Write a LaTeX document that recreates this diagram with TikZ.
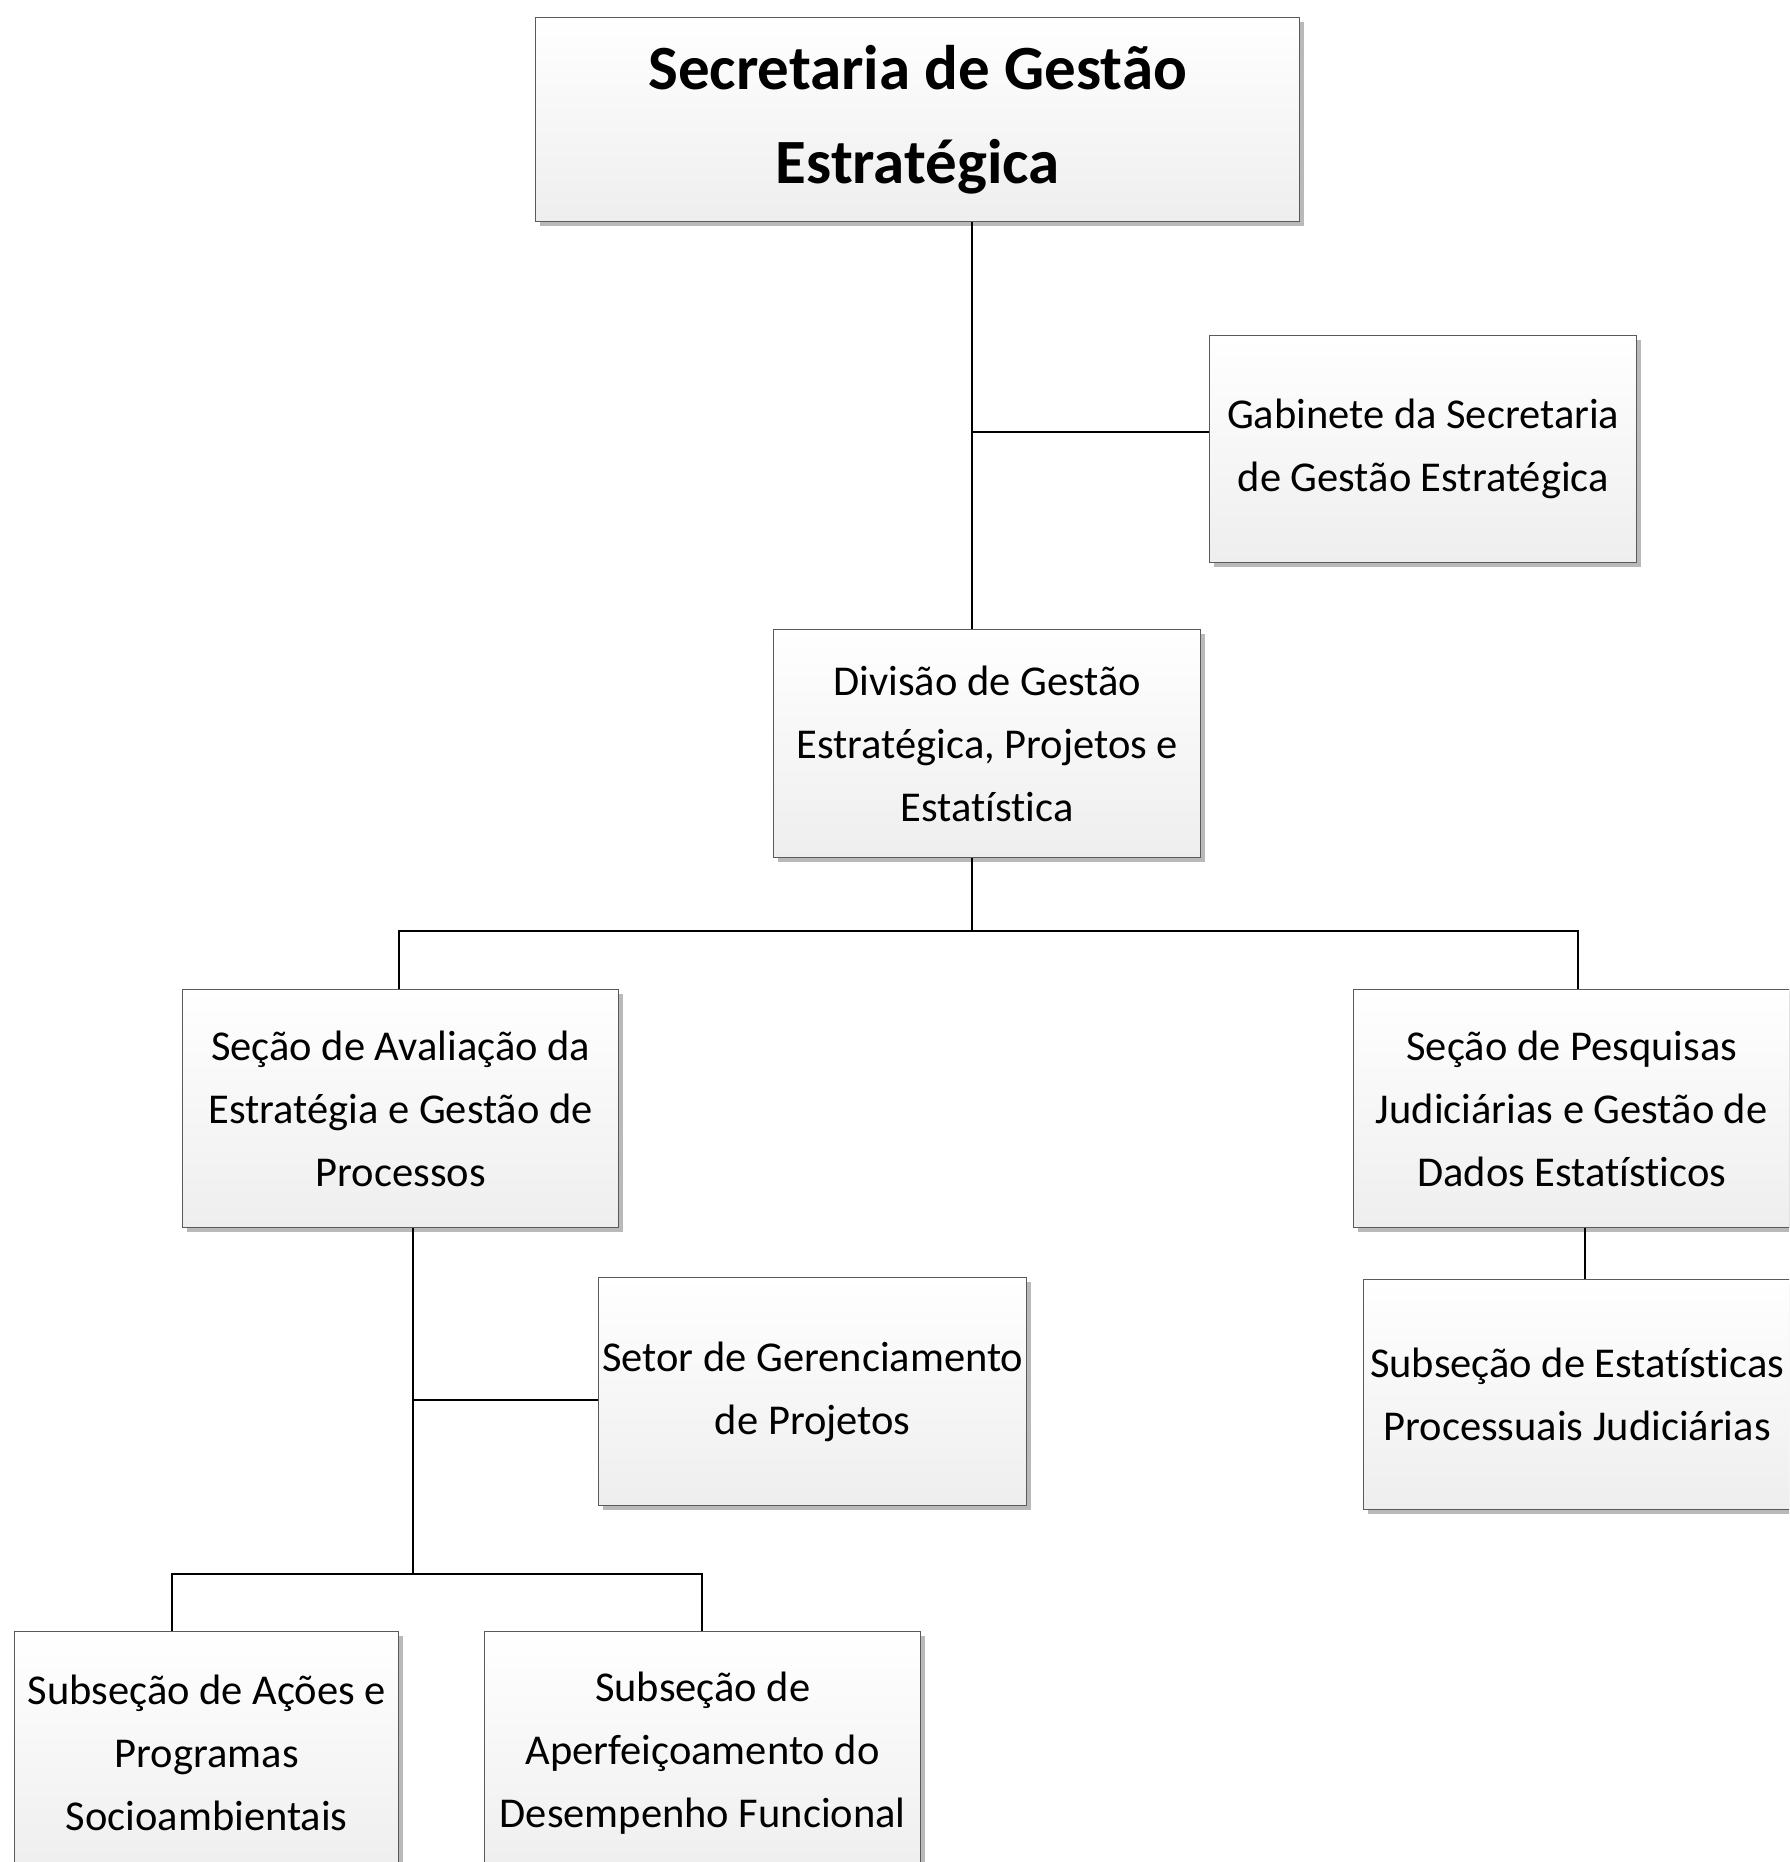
\documentclass[tikz,border=0pt]{standalone}
\usepackage{fontspec}
\setmainfont[Ligatures=NoCommon]{Carlito}
\usetikzlibrary{shadows}
\definecolor{boxline}{HTML}{5A5A5A}
\definecolor{boxbot}{HTML}{EEEEEE}
\begin{document}
\begin{tikzpicture}[x=1pt,y=-1pt,
  orgbox/.style={draw=boxline, line width=1.4pt, top color=white, bottom color=boxbot,
    drop shadow={shadow xshift=4pt, shadow yshift=-4pt, fill=gray!55, opacity=1},
    align=center, anchor=north west, inner sep=0pt,
    font=\fontsize{42.5}{63}\selectfont},
  link/.style={line width=2.4pt, black}]
\clip (0,0) rectangle (1789,1862);
\useasboundingbox (0,0) rectangle (1789,1862);
\fill[white] (0,0) rectangle (1789,1862);

\node[orgbox, minimum width=764pt, minimum height=204pt, font=\bfseries\fontsize{63}{94}\selectfont] (top) at (535,17) {Secretaria de Gestão\\Estratégica};
\node[orgbox, minimum width=427pt, minimum height=227pt] (gab) at (1209,335) {Gabinete da Secretaria\\de Gestão Estratégica};
\node[orgbox, minimum width=427pt, minimum height=228pt] (div) at (773,629) {Divisão de Gestão\\Estratégica, Projetos e\\Estatística};
\node[orgbox, minimum width=436pt, minimum height=238pt] (sav) at (182,989) {Seção de Avaliação da\\Estratégia e Gestão de\\Processos};
\node[orgbox, minimum width=436pt, minimum height=238pt] (spq) at (1353,989) {Seção de Pesquisas\\Judiciárias e Gestão de\\Dados Estatísticos};
\node[orgbox, minimum width=428pt, minimum height=228pt] (set) at (598,1277) {Setor de Gerenciamento\\de Projetos};
\node[orgbox, minimum width=427pt, minimum height=230pt] (sest) at (1363,1279) {Subseção de Estatísticas\\Processuais Judiciárias};
\node[orgbox, minimum width=384pt, minimum height=242pt] (sac) at (14,1631) {Subseção de Ações e\\Programas\\Socioambientais};
\node[orgbox, minimum width=436pt, minimum height=242pt] (sap) at (484,1631) {Subseção de\\Aperfeiçoamento do\\Desempenho Funcional};

\coordinate (trunk) at (972,0);
\coordinate (b1) at (0,931);
\coordinate (t2) at (413,0);
\coordinate (b2) at (0,1574);

\draw[link] (top.south -| trunk) -- (div.north -| trunk);
\draw[link] (gab.west |- 0,432) -- (trunk |- 0,432);
\draw[link] (div.south -| trunk) -- (trunk |- b1);
\draw[link] (sav.north -| 399,0) -- (399,931) -- (1578,931) -- (spq.north -| 1578,0);
\draw[link] (sav.south -| t2) -- (t2 |- b2);
\draw[link] (set.west |- 0,1400) -- (t2 |- 0,1400);
\draw[link] (sac.north -| 172,0) -- (172,1574) -- (702,1574) -- (sap.north -| 702,0);
\draw[link] (spq.south -| 1585,0) -- (sest.north -| 1585,0);
\end{tikzpicture}
\end{document}
